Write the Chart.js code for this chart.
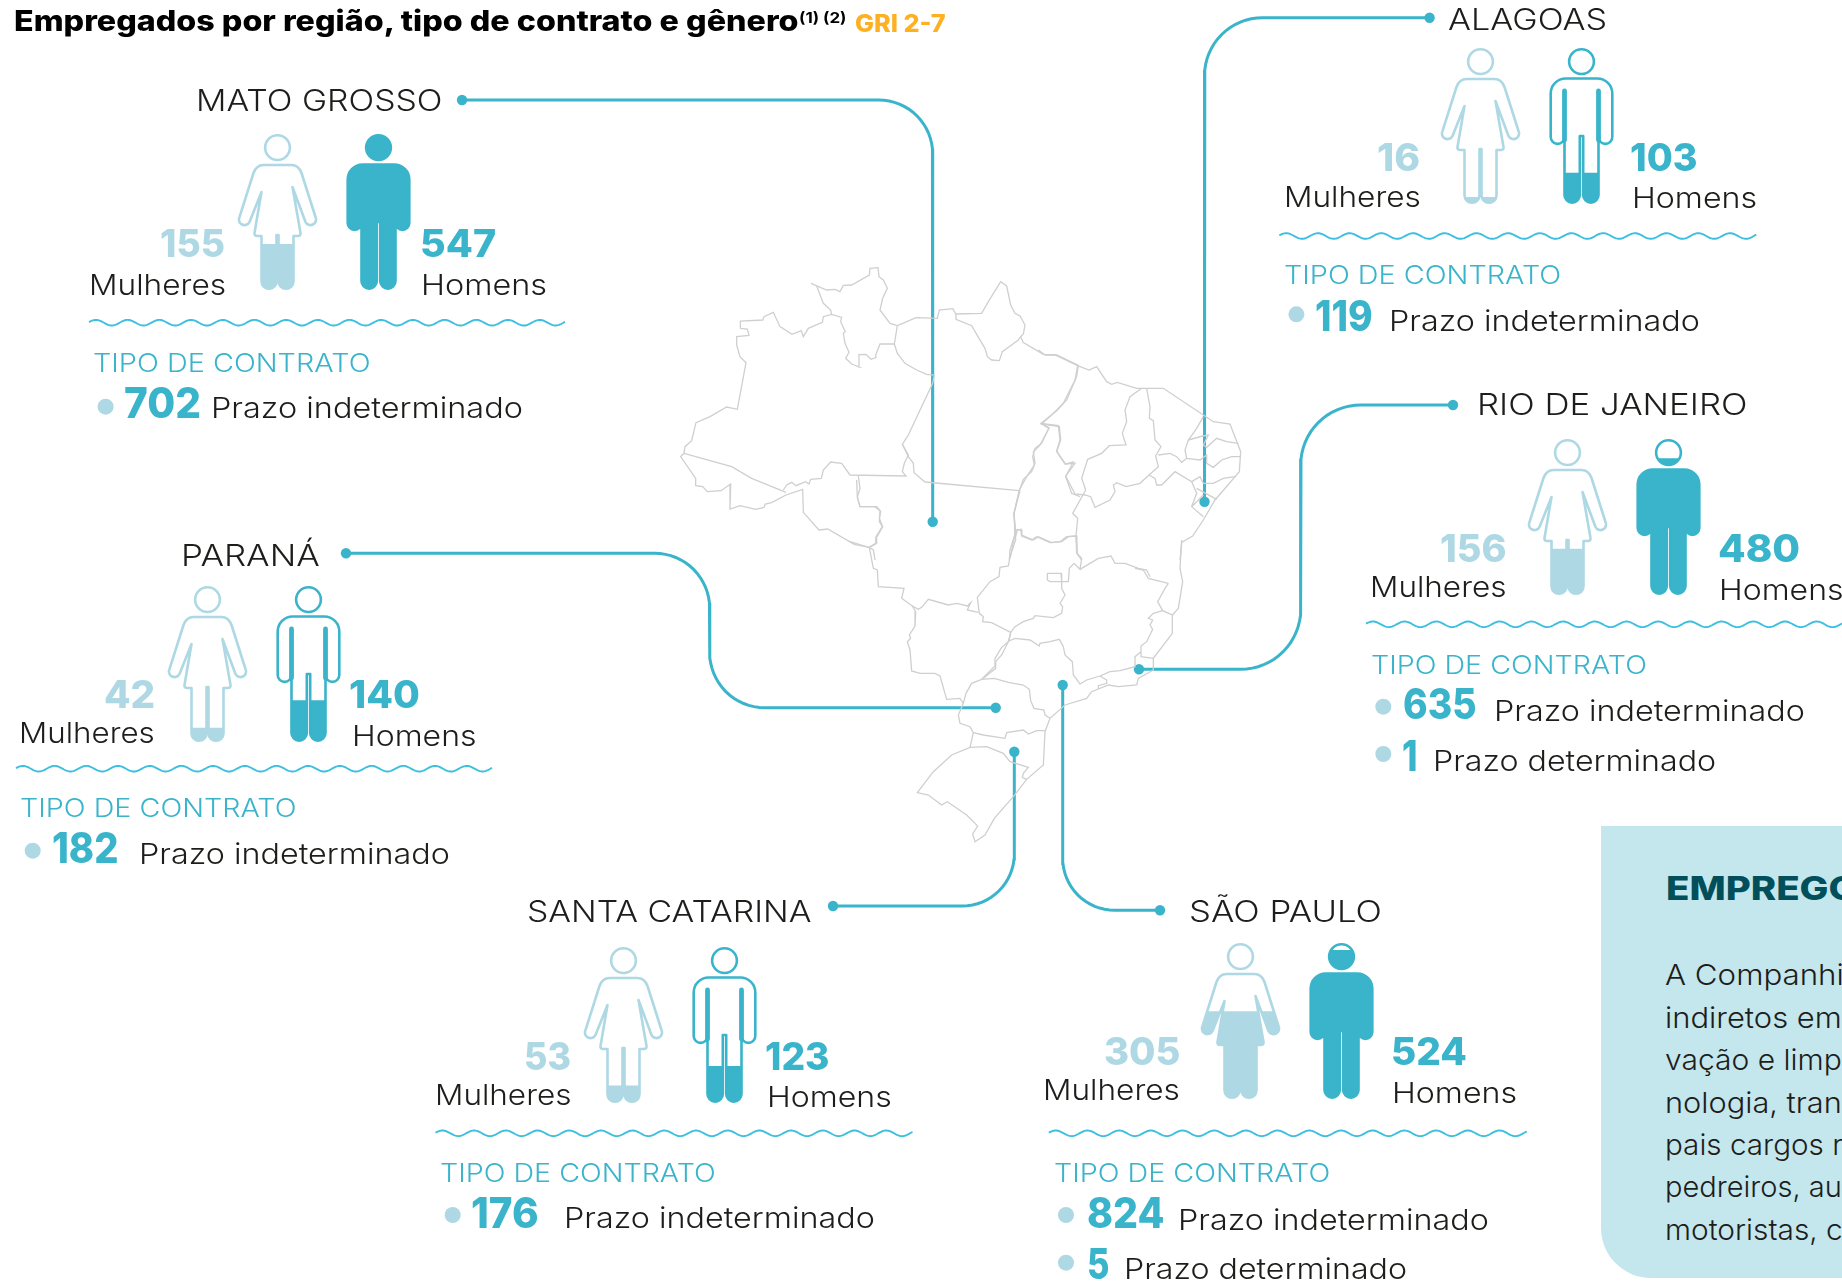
<!DOCTYPE html>
<html lang="pt-BR">
<head>
<meta charset="utf-8">
<title>Empregados por região, tipo de contrato e gênero</title>
<script src="https://cdn.jsdelivr.net/npm/chart.js@4"></script>
<style>
    html, body { margin: 0; padding: 0; background: #fff; }
    body { position: relative; width: 1842px; height: 1282px; overflow: hidden; font-family: Inter, "Open Sans", sans-serif; }
    canvas { position: absolute; display: block; }
    .txt { position: absolute; white-space: nowrap; line-height: 1; transform-origin: 0 0; }
    #panel { position: absolute; left: 1601px; top: 826px; width: 260px; height: 452px; background: #c4e7ed; border-bottom-left-radius: 50px; }
</style>
</head>
<body>
<canvas id="mapChart" width="1842" height="1282" style="left:0;top:0"></canvas>
<div id="panel"></div>
<script>
// ======== Values ========
const regions = ["MATO GROSSO", "ALAGOAS", "RIO DE JANEIRO", "PARANÁ", "SANTA CATARINA", "SÃO PAULO"];
const mulheres = [155, 16, 156, 42, 53, 305];
const homens = [547, 103, 480, 140, 123, 524];
const prazoIndeterminado = [702, 119, 635, 182, 176, 824];
const prazoDeterminado = [null, null, 1, null, null, 5];

const panelTitle = "EMPREGOS";
const panelLines = ["A Companhi", "indiretos em", "vação e limp", "nologia, tran", "pais cargos r", "pedreiros, au", "motoristas, c"];

const TEAL = "#39b4ca";
const LIGHT = "#add8e4";
const INK = "#1d1d1b";

// where each region block sits on the page
const blocks = [
    { fig: [277, 134], name: [197, 442, 110.7], nameDot: [462, 100],
      w: [161.5, 225, 256.7], wl: [90, 225.6, 295], m: [421, 495.6, 256.7], ml: [422, 546.5, 295],
      wave: [89, 565.6, 322.7], tipo: [94.5, 370.5, 371.7], dot1: [105.6, 406.7],
      n1: [125.5, 201, 418], t1: [212, 522.4, 418.3] },
    { fig: [1480.5, 48.3], name: [1449.3, 1607, 30], nameDot: [1429.6, 17.7],
      w: [1378.8, 1420.4, 170.7], wl: [1285, 1420.4, 206.7], m: [1631, 1697, 170.7], ml: [1633, 1756.6, 208.3],
      wave: [1279.3, 1756.6, 236], tipo: [1285, 1560.7, 284.3], dot1: [1296.4, 314.3],
      n1: [1316.8, 1373, 330.7], t1: [1390.7, 1700, 330.7] },
    { fig: [1567.3, 439.3], name: [1478.3, 1747.3, 414.7], nameDot: [1453, 405],
      w: [1441.7, 1506.7, 561.7], wl: [1371.7, 1506.7, 597.3], m: [1719.3, 1800, 561.7], ml: [1720.7, 1843.7, 600],
      wave: [1366, 1843, 624.3], tipo: [1372.3, 1646.7, 674], dot1: [1383.3, 706.7],
      n1: [1404, 1476, 719.3], t1: [1495.7, 1805, 720.7],
      dot2: [1383.3, 754], n2: [1403.3, 1417.3, 770.7], t2: [1434.3, 1716, 770.7] },
    { fig: [207.7, 585.7], name: [182.7, 320, 566], nameDot: [346, 553.3],
      w: [105.3, 155, 708.3], wl: [20.7, 155, 743.3], m: [350.7, 420, 708.3], ml: [353, 476, 746],
      wave: [16, 492.7, 768.7], tipo: [21.7, 296.7, 817.3], dot1: [32.7, 850.7],
      n1: [53.3, 118.3, 863.3], t1: [140, 449.3, 864.3] },
    { fig: [623.2, 946.7], name: [528.5, 811.5, 922.3], nameDot: [833, 906],
      w: [525, 570.5, 1070], wl: [436, 571, 1105], m: [766, 829, 1070], ml: [768.5, 891.8, 1106.7],
      wave: [435.5, 913, 1133.3], tipo: [441.7, 716, 1181.7], dot1: [452.7, 1215],
      n1: [472.7, 538.8, 1228.3], t1: [565.7, 875, 1228.3] },
    { fig: [1240.2, 942.7], name: [1190.4, 1381.8, 922.3], nameDot: [1160, 910.3],
      w: [1105, 1180, 1065], wl: [1044.6, 1180, 1100], m: [1392.3, 1466.8, 1065], ml: [1393.4, 1517, 1102.7],
      wave: [1048.8, 1527, 1133.3], tipo: [1055.7, 1330.4, 1181.7], dot1: [1066, 1215],
      n1: [1088, 1164, 1227.7], t1: [1179, 1488.3, 1230],
      dot2: [1066, 1262.7], n2: [1088, 1109, 1279], t2: [1125, 1406.5, 1279] }
];

// connector elbows, from the label dot to the spot on the map
const connectors = [
    { path: [[462, 100], [932.7, 100], [932.7, 521.7]], r: 54 },
    { path: [[1429.6, 17.7], [1204.5, 17.7], [1204.5, 501.7]], r: 58 },
    { path: [[1453, 405], [1300.7, 405], [1300.7, 669.3], [1139, 669.3]], r: 60 },
    { path: [[346, 553.3], [709.7, 553.3], [709.7, 707.7], [995.7, 707.7]], r: 55 },
    { path: [[833, 906], [1014.3, 906], [1014.3, 751.7]], r: 52 },
    { path: [[1160, 910.3], [1062.7, 910.3], [1062.7, 685]], r: 52 }
];

// state borders, traced per crop of the map: [origin x, origin y, polylines in 3x crop units]
const mapTraces = [
    [660, 260, [
        [72,580,75,560,95,542,108,488,150,470,200,441,232,448,258,308,240,290,230,255,230,230,267,226,262,207,240,205,241,183,308,180,312,170,340,157,360,200,396,223,424,212,430,230,445,205,487,187,490,170,515,163,545,172,542,185,556,215,550,220,555,250,567,277,557,295,575,312,598,321,597,284,618,283,633,298,648,293,647,285,660,252,703,252,712,197],
        [515,163,512,150,490,130,470,78,453,70,500,90,525,88,540,95,550,76,575,75,628,45,630,25,654,23,657,50,670,60,682,85,668,115,660,150,690,190,712,197],
        [712,197,768,173,832,175,838,150,878,146,888,162,965,160,985,125,1022,65,1040,78,1052,135,1065,160,1080,168,1095,195,1090,222,1082,230,1090,248,1150,283,1190,285,1255,316],
        [888,162,888,178,935,197,957,235,975,265,982,290,995,300,1018,302,1027,275,1075,240,1082,230],
        [703,252,712,280,735,310,770,330,800,343,823,345,818,370,745,525,727,553,745,590,760,610,762,638,795,666,1078,692],
        [727,553,745,585,733,610,727,635,738,648,570,645,545,610,512,606,490,630,484,655,452,658,447,672,437,665,408,677,395,667,380,675,370,690],
        [72,580,62,590,107,655,107,677,128,680,142,695,183,692,212,672,210,747,240,737,287,748,312,742,316,732,335,728,378,705,428,688,430,757,477,810,503,807,583,853,627,862,647,850,648,830,667,800,658,785,660,752,645,740,600,740,592,712,600,685,595,648],
        [72,580,215,620,275,655,378,697],
        [627,862,640,870,645,900],
        [1255,316,1250,350,1220,420,1190,452,1143,490,1195,497,1200,540,1190,573,1217,612,1240,606,1217,650,1235,700,1260,710],
        [1143,490,1167,505,1140,555,1120,575,1125,610,1115,635,1090,658,1078,692,1062,760,1065,825,1050,895],
        [1065,815,1072,808,1083,810,1085,828,1115,840,1130,830,1170,848,1200,845,1220,830,1250,828,1250,870]
    ]],
    [1000, 350, [
        [115,0,135,15,165,15,233,47,267,60,290,50,320,95,335,103,352,97,410,115,490,115,610,195,640,215,690,222,722,305,718,365,645,450,610,510,578,558,545,577,540,630],
        [233,47,225,90,190,160,165,185,125,222,178,230,182,270,170,305,195,342,225,340,197,378,225,432,255,435,272,440,285,472,330,450,345,425,340,405,350,398,378,410,420,400,447,375,475,350,467,318,483,290,465,270,460,212,448,205,450,170,440,115],
        [125,222,147,233,125,280,105,295,98,320,103,345,80,380,58,420,42,490,47,545,30,600,28,630],
        [47,560,52,540,63,538,65,555,100,570,115,560,155,578,185,575,205,560,228,558,230,610,245,630],
        [257,420,218,490,233,505,228,558],
        [425,115,390,140,375,180,380,215,367,250,378,285,328,287,305,310,263,328,245,385,257,420],
        [447,375,465,385,470,405,485,405,525,365,575,395,590,430,575,470,610,500],
        [475,315,510,310,530,320,545,337,560,325,600,330,620,315,620,340,640,352,665,330,695,320,722,320],
        [610,200,590,235,565,270,555,300,560,325],
        [565,270,608,258,625,255,610,285,620,292,650,265,680,275,715,280],
        [575,395,600,380,610,400,640,400,670,385,705,380],
        [590,415,650,448],
        [575,470,610,435]
    ]],
    [850, 480, [
        [510,32,492,100,497,180,480,230,475,258,450,262,447,290,420,305,382,352,388,400,400,410,398,425,425,428,482,457,475,485,455,525,437,545,437,565,400,595],
        [20,0,22,50,30,80,80,80,92,95,88,115,98,140,78,175,80,190,58,203,0,185],
        [58,203,70,265,82,270,85,320,162,325,155,355,190,380,205,388,215,382,235,358,295,375,320,370,352,378,362,368,352,390,385,397],
        [592,280,633,280,635,305,600,305,592,300,592,280],
        [635,305,655,305,658,265,672,250,690,268,695,235,682,220,678,168],
        [635,305,635,325,645,345,630,370,638,380,635,400,610,413,555,407,550,415,520,425,495,440,482,457],
        [690,268,745,235,783,228,795,250,825,250,865,265,890,270,900,290]
    ]],
    [860, 540, [
        [925,130,915,145,893,185,908,212,937,225,937,280,880,355,880,390],
        [908,212,880,220,865,235,878,240,870,255,878,268,860,305,843,318,843,350,880,355],
        [825,85,850,90,865,115,925,130],
        [965,0,960,85,968,125,955,205,937,225],
        [880,390,835,415,830,435,775,440,745,435,695,455,680,475,615,495,570,535,555,575,550,675,500,718,460,770,403,835,375,885,345,905,338,882,353,858,320,825,262,785,245,795,205,765,172,758,220,695,275,645,330,622,380,620,430,640,450,665,505,682,490,700,487,712,500,718],
        [843,335,825,350,825,380,780,392,750,395,720,408,680,420,660,432,640,405,637,365,615,345,610,320,598,298,570,305,540,310,538,318,510,300,465,295,447,303,452,278],
        [155,195,167,215,165,258,148,285,152,295,142,305,150,330,155,393,180,400,225,400,240,408,260,478,300,475,310,490],
        [365,418,405,378,405,355,425,322,445,305],
        [365,418,335,430,318,460,310,490,295,525,300,550,330,560,340,578,370,585,435,595,440,578,490,570,505,582,530,572,555,572],
        [365,418,403,415,445,427,490,435,508,448,512,482,522,505,552,510,555,525,570,535],
        [340,578,330,622],
        [720,408,740,420,740,430,715,437,715,447]
    ]]
];

// ======== Helpers ========
function traceToPoints(ox, oy, flat) {
    const pts = [];
    for (let i = 0; i < flat.length; i += 2) {
        pts.push({ x: ox + flat[i] / 3, y: oy + flat[i + 1] / 3 });
    }
    return pts;
}

// turns an elbow path into line points with round corners
function elbowPoints(path, r) {
    const pts = [{ x: path[0][0], y: path[0][1] }];
    for (let i = 1; i < path.length - 1; i++) {
        const [px, py] = path[i - 1], [vx, vy] = path[i], [nx, ny] = path[i + 1];
        const d1 = [Math.sign(vx - px), Math.sign(vy - py)];
        const d2 = [Math.sign(nx - vx), Math.sign(ny - vy)];
        const sx = vx - d1[0] * r, sy = vy - d1[1] * r;
        const cx = sx + d2[0] * r, cy = sy + d2[1] * r;
        for (let k = 0; k <= 16; k++) {
            const t = k / 16 * Math.PI / 2;
            pts.push({
                x: cx - d2[0] * r * Math.cos(t) + d1[0] * r * Math.sin(t),
                y: cy - d2[1] * r * Math.cos(t) + d1[1] * r * Math.sin(t)
            });
        }
    }
    const last = path[path.length - 1];
    pts.push({ x: last[0], y: last[1] });
    return pts;
}

// puts text with its baseline on y and stretches it to fill left..right
function label(text, spot, size, weight, color) {
    const el = document.createElement("span");
    el.className = "txt";
    el.textContent = text;
    el.style.fontSize = size + "px";
    el.style.fontWeight = weight;
    el.style.color = color;
    // 1.5px back for the glyph side bearing
    const left = spot[0] - 1.5;
    el.style.left = left + "px";
    el.style.top = "0px";
    document.body.appendChild(el);
    const natural = el.getBoundingClientRect().width;
    const probe = document.createElement("i");
    probe.style.cssText = "display:inline-block;width:0;height:0";
    el.appendChild(probe);
    el.style.top = (spot[2] - probe.getBoundingClientRect().bottom) + "px";
    el.removeChild(probe);
    el.style.transform = "scaleX(" + ((spot[1] - left) / natural) + ")";
}

// ======== Person shapes, origin at the top centre of the figure ========
function womanPath(p, x, y) {
    p.moveTo(x - 14, y + 31);
    p.lineTo(x + 14, y + 31);
    p.quadraticCurveTo(x + 21, y + 31, x + 24, y + 39);
    p.lineTo(x + 38, y + 83);
    p.arc(x + 33, y + 85.5, 5.6, -0.46, 2.68);
    p.lineTo(x + 15, y + 53);
    p.lineTo(x + 23, y + 99);
    p.quadraticCurveTo(x + 23.5, y + 102, x + 20, y + 102);
    p.lineTo(x + 16, y + 102);
    p.lineTo(x + 16, y + 147.3);
    p.arc(x + 8.5, y + 147.3, 7.5, 0, Math.PI);
    p.lineTo(x + 1, y + 101);
    p.lineTo(x - 1, y + 101);
    p.lineTo(x - 1, y + 147.3);
    p.arc(x - 8.5, y + 147.3, 7.5, 0, Math.PI);
    p.lineTo(x - 16, y + 102);
    p.lineTo(x - 20, y + 102);
    p.quadraticCurveTo(x - 23.5, y + 102, x - 23, y + 99);
    p.lineTo(x - 16, y + 58);
    p.lineTo(x - 28, y + 88);
    p.arc(x - 33, y + 85.5, 5.6, 0.46, 3.6);
    p.lineTo(x - 24, y + 39);
    p.quadraticCurveTo(x - 21, y + 31, x - 14, y + 31);
    p.closePath();
    p.moveTo(x + 12.4, y + 13.6);
    p.arc(x, y + 13.6, 12.4, 0, Math.PI * 2);
    p.closePath();
}

function manPath(p, x, y) {
    p.moveTo(x - 15, y + 30.5);
    p.lineTo(x + 15, y + 30.5);
    p.arcTo(x + 30.8, y + 30.5, x + 30.8, y + 46, 15);
    p.lineTo(x + 30.8, y + 89);
    p.arc(x + 23.9, y + 89, 6.9, 0, Math.PI);
    p.lineTo(x + 17, y + 147);
    p.arc(x + 9.35, y + 147, 7.65, 0, Math.PI);
    p.lineTo(x + 1.7, y + 88);
    p.lineTo(x - 1.7, y + 88);
    p.lineTo(x - 1.7, y + 147);
    p.arc(x - 9.35, y + 147, 7.65, 0, Math.PI);
    p.lineTo(x - 17, y + 89);
    p.arc(x - 23.9, y + 89, 6.9, 0, Math.PI);
    p.lineTo(x - 30.8, y + 46);
    p.arcTo(x - 30.8, y + 30.5, x - 15, y + 30.5, 15);
    p.closePath();
    p.moveTo(x + 12.4, y + 13.6);
    p.arc(x, y + 13.6, 12.4, 0, Math.PI * 2);
    p.closePath();
}

// bars are clipped to the two silhouettes, then the outlines go on top
const personPlugin = {
    id: "personPlugin",
    beforeDatasetsDraw(chart) {
        const top = chart.chartArea.top;
        const xs = chart.scales.x;
        const clip = new Path2D();
        womanPath(clip, xs.getPixelForValue(0), top);
        manPath(clip, xs.getPixelForValue(1), top);
        chart.ctx.save();
        chart.ctx.clip(clip);
    },
    afterDatasetsDraw(chart) {
        const ctx = chart.ctx;
        ctx.restore();
        const top = chart.chartArea.top;
        const xs = chart.scales.x;
        const wx = xs.getPixelForValue(0), mx = xs.getPixelForValue(1);
        ctx.save();
        ctx.lineWidth = 2.6;
        ctx.lineJoin = "round";
        const w = new Path2D();
        womanPath(w, wx, top);
        ctx.strokeStyle = LIGHT;
        ctx.stroke(w);
        const m = new Path2D();
        manPath(m, mx, top);
        ctx.strokeStyle = TEAL;
        ctx.stroke(m);
        // thick seam between arm and body
        ctx.lineWidth = 4.8;
        ctx.lineCap = "round";
        ctx.beginPath();
        ctx.moveTo(mx - 17, top + 43);
        ctx.lineTo(mx - 17, top + 92);
        ctx.moveTo(mx + 17, top + 43);
        ctx.lineTo(mx + 17, top + 92);
        ctx.stroke();
        ctx.restore();
    }
};

// ======== Map, connectors, dots and wavy rules (one page sized chart) ========
const mapDatasets = [];
mapTraces.forEach(([ox, oy, lines]) => {
    lines.forEach(flat => {
        mapDatasets.push({
            data: traceToPoints(ox, oy, flat),
            showLine: true,
            borderColor: "#cfcfcf",
            borderWidth: 1.3,
            pointRadius: 0
        });
    });
});
connectors.forEach(c => {
    mapDatasets.push({
        data: elbowPoints(c.path, c.r),
        showLine: true,
        borderColor: TEAL,
        borderWidth: 3,
        pointRadius: 0
    });
    const a = c.path[0], b = c.path[c.path.length - 1];
    mapDatasets.push({
        data: [{ x: a[0], y: a[1] }, { x: b[0], y: b[1] }],
        showLine: false,
        pointRadius: 5.2,
        pointBackgroundColor: TEAL,
        pointBorderWidth: 0
    });
});
const bulletDots = [];
blocks.forEach(b => {
    bulletDots.push({ x: b.dot1[0], y: b.dot1[1] });
    if (b.dot2) bulletDots.push({ x: b.dot2[0], y: b.dot2[1] });
});
mapDatasets.push({
    data: bulletDots,
    showLine: false,
    pointRadius: 8,
    pointBackgroundColor: LIGHT,
    pointBorderWidth: 0
});

const wavePlugin = {
    id: "wavePlugin",
    afterDatasetsDraw(chart) {
        const ctx = chart.ctx;
        const sx = chart.scales.x, sy = chart.scales.y;
        ctx.save();
        ctx.strokeStyle = "#3dbfdf";
        ctx.lineWidth = 1.9;
        blocks.forEach(b => {
            const [x0, x1, cy] = b.wave;
            ctx.beginPath();
            for (let x = x0; x <= x1; x += 1) {
                const y = cy - 2.8 * Math.sin(2 * Math.PI * (x - x0 + 1) / 31.7);
                if (x === x0) ctx.moveTo(sx.getPixelForValue(x), sy.getPixelForValue(y));
                else ctx.lineTo(sx.getPixelForValue(x), sy.getPixelForValue(y));
            }
            ctx.stroke();
        });
        ctx.restore();
    }
};

new Chart(document.getElementById("mapChart").getContext("2d"), {
    type: "scatter",
    data: { datasets: mapDatasets },
    options: {
        responsive: false,
        animation: false,
        devicePixelRatio: 1,
        layout: { padding: 0, autoPadding: false },
        plugins: { legend: { display: false }, tooltip: { enabled: false } },
        elements: { line: { tension: 0 } },
        scales: {
            x: { type: "linear", min: 0, max: 1842, display: false },
            y: { type: "linear", min: 0, max: 1282, reverse: true, display: false }
        }
    },
    plugins: [wavePlugin]
});

// ======== One small bar chart per region, women and men ========
regions.forEach((name, i) => {
    const b = blocks[i];
    const canvas = document.createElement("canvas");
    canvas.width = 202;
    canvas.height = 164;
    canvas.style.left = (b.fig[0] - 50.5) + "px";
    canvas.style.top = (b.fig[1] - 4) + "px";
    document.body.appendChild(canvas);
    new Chart(canvas.getContext("2d"), {
        type: "bar",
        data: {
            labels: ["Mulheres", "Homens"],
            datasets: [{
                data: [mulheres[i], homens[i]],
                base: -8,
                backgroundColor: [LIGHT, TEAL],
                barPercentage: 1,
                categoryPercentage: 1
            }]
        },
        options: {
            responsive: false,
            animation: false,
            devicePixelRatio: 1,
            layout: { padding: { top: 4, bottom: 4 } },
            plugins: { legend: { display: false }, tooltip: { enabled: false } },
            scales: {
                x: { display: false },
                y: { display: false, min: -8, max: 550 }
            }
        },
        plugins: [personPlugin]
    });

    // texts of the block
    label(name, b.name, 30, 300, INK);
    label(String(mulheres[i]), b.w, 38, 800, LIGHT);
    label("Mulheres", b.wl, 29, 300, INK);
    label(String(homens[i]), b.m, 38, 800, TEAL);
    label("Homens", b.ml, 29, 300, INK);
    label("TIPO DE CONTRATO", b.tipo, 25, 300, TEAL);
    label(String(prazoIndeterminado[i]), b.n1, 42, 800, TEAL);
    label("Prazo indeterminado", b.t1, 29, 300, INK);
    if (prazoDeterminado[i] !== null) {
        label(String(prazoDeterminado[i]), b.n2, 42, 800, TEAL);
        label("Prazo determinado", b.t2, 29, 300, INK);
    }
});

// ======== Title and side panel ========
label("Empregados por região, tipo de contrato e gênero", [15, 798, 31], 28, 800, "#000");
label("(1) (2)", [800, 846, 23], 15, 700, "#000");
label("GRI 2-7", [856, 945, 32.3], 24, 800, "#fdb022");

label(panelTitle, [1667, 1883, 900], 32, 800, "#004f5b");
const panelBaselines = [985, 1027.7, 1070, 1112.7, 1155, 1197.3, 1240];
const panelRights = [1844, 1842, 1842, 1842, 1843, 1842, 1843];
panelLines.forEach((line, i) => {
    label(line, [1666.7, panelRights[i], panelBaselines[i]], 29, 300, INK);
});
</script>
</body>
</html>
